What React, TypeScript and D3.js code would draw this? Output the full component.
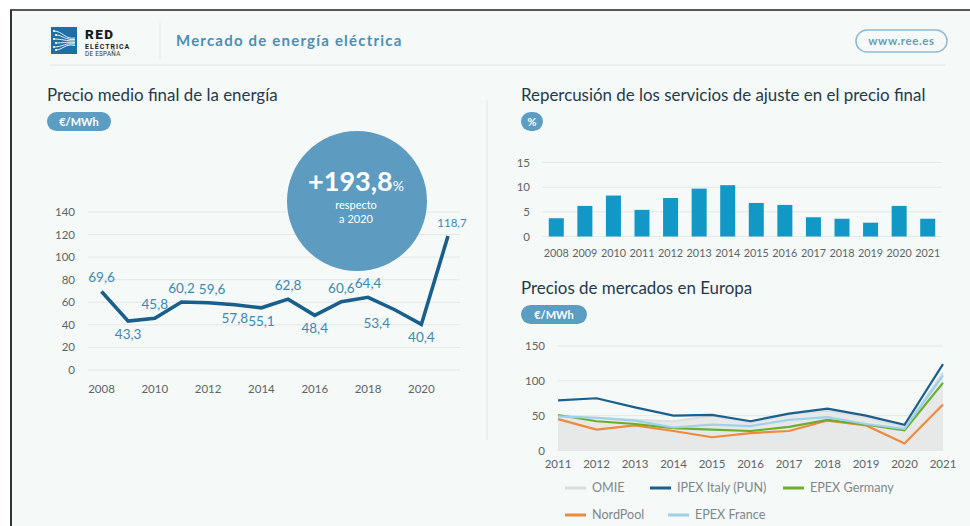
import * as d3 from 'd3'
import React, { useEffect, useRef } from 'react'

// Precio medio final de la energía (€/MWh)
const priceYears = [2008, 2009, 2010, 2011, 2012, 2013, 2014, 2015, 2016, 2017, 2018, 2019, 2020, 2021]
const finalPrice = [69.6, 43.3, 45.8, 60.2, 59.6, 57.8, 55.1, 62.8, 48.4, 60.6, 64.4, 53.4, 40.4, 118.7]
const labelsBelow = [2009, 2013, 2014, 2016, 2019, 2020]
const priceTicks = [0, 20, 40, 60, 80, 100, 120, 140]
const priceYearTicks = [2008, 2010, 2012, 2014, 2016, 2018, 2020]

// Repercusión de los servicios de ajuste (%)
const adjustYears = ['2008', '2009', '2010', '2011', '2012', '2013', '2014', '2015', '2016', '2017', '2018', '2019', '2020', '2021']
const adjustShare = [3.7, 6.2, 8.3, 5.4, 7.8, 9.7, 10.4, 6.8, 6.4, 3.9, 3.6, 2.8, 6.2, 3.6]
const adjustTicks = [0, 5, 10, 15]

// Precios de mercados en Europa (€/MWh)
const marketYears = [2011, 2012, 2013, 2014, 2015, 2016, 2017, 2018, 2019, 2020, 2021]
const omie = [50, 47, 44, 42, 50, 40, 52, 57, 48, 34, 112]
const ipexItaly = [72, 75, 62, 50, 51, 42, 53, 60, 50, 37, 124]
const epexGermany = [51, 42, 38, 32, 30, 28, 34, 44, 37, 29, 97]
const nordPool = [45, 30, 36, 28, 19, 25, 28, 43, 36, 10, 66]
const epexFrance = [49, 47, 43, 33, 37, 35, 44, 48, 38, 31, 108]
const marketTicks = [0, 50, 100, 150]

const BG = '#f5f9f7'
const TITLE = '#25394b'
const PILL = '#5c9ec3'
const GRID = '#e3e9e7'
const TICK = '#5d6468'
const FONT = 'Lato, "Open Sans", sans-serif'

export default function App() {
  const sandbox = useRef<SVGSVGElement>(null)

  useEffect(() => {
    const svg = d3.select(sandbox.current)
    svg.selectAll('*').remove()

    // frame
    svg.append('rect').attr('width', 970).attr('height', 526).attr('fill', '#fff')
    svg.append('rect').attr('x', 11).attr('y', 10).attr('width', 959).attr('height', 516).attr('fill', BG)
    svg.append('line').attr('x1', 10).attr('x2', 970).attr('y1', 10).attr('y2', 10).attr('stroke', '#222').attr('stroke-width', 1.6)
    svg.append('line').attr('x1', 11).attr('x2', 11).attr('y1', 10).attr('y2', 526).attr('stroke', '#333').attr('stroke-width', 2)

    //header logo
    const logo = svg.append('g')
    logo.append('rect').attr('x', 51).attr('y', 27).attr('width', 26).attr('height', 27).attr('fill', '#1f6fa6')
    const rays = [31, 35, 39, 43, 47, 50]
    rays.forEach((y, i) => {
      logo
        .append('path')
        .attr('d', `M${54 + (i % 2) * 2},${y} C${62},${y} ${66},${40 + i * 0.6} ${75},${38 + i * 1.5}`)
        .attr('fill', 'none')
        .attr('stroke', '#fff')
        .attr('stroke-width', 0.9)
      logo.append('circle').attr('cx', 54 + (i % 2) * 2).attr('cy', y).attr('r', 1.1).attr('fill', '#fff')
    })
    logo.append('text').attr('x', 85).attr('y', 39).text('RED')
      .attr('font-family', 'Roboto, sans-serif').attr('font-weight', 900).attr('font-size', 13.5).attr('letter-spacing', 1.5).attr('fill', '#1b1b1b')
    logo.append('text').attr('x', 85).attr('y', 48.5).text('ELÉCTRICA')
      .attr('font-family', 'Roboto, sans-serif').attr('font-weight', 700).attr('font-size', 7).attr('letter-spacing', 1).attr('fill', '#1b1b1b')
    logo.append('text').attr('x', 85).attr('y', 56).text('DE ESPAÑA')
      .attr('font-family', 'Roboto, sans-serif').attr('font-size', 6.3).attr('letter-spacing', 0.3).attr('fill', '#333')
    svg.append('line').attr('x1', 160).attr('x2', 160).attr('y1', 23).attr('y2', 58).attr('stroke', '#e1e6e4')
    svg.append('text').attr('x', 176).attr('y', 46).text('Mercado de energía eléctrica')
      .attr('font-family', FONT).attr('font-weight', 700).attr('font-size', 15).attr('letter-spacing', 1.2).attr('fill', '#4b8fb4')

    // www pill
    svg.append('rect').attr('x', 856).attr('y', 30).attr('width', 91).attr('height', 22).attr('rx', 11)
      .attr('fill', 'none').attr('stroke', '#92b9cd').attr('stroke-width', 1.5)
    svg.append('text').attr('x', 901.5).attr('y', 45).attr('text-anchor', 'middle').text('www.ree.es')
      .attr('font-family', FONT).attr('font-weight', 700).attr('font-size', 11.5).attr('letter-spacing', 0.6).attr('fill', '#6c9bb8')
    svg.append('line').attr('x1', 50).attr('x2', 946).attr('y1', 65).attr('y2', 65).attr('stroke', '#e1e7e5')
    svg.append('line').attr('x1', 487).attr('x2', 487).attr('y1', 100).attr('y2', 440).attr('stroke', '#e3e8e6')

    const title = (x: number, y: number, t: string) =>
      svg.append('text').attr('x', x).attr('y', y).text(t)
        .attr('font-family', FONT).attr('font-size', 16.9).attr('fill', TITLE)

    const pill = (x: number, y: number, w: number, t: string) => {
      svg.append('rect').attr('x', x).attr('y', y).attr('width', w).attr('height', 19).attr('rx', 9.5).attr('fill', PILL)
      svg.append('text').attr('x', x + w / 2).attr('y', y + 13.5).attr('text-anchor', 'middle').text(t)
        .attr('font-family', FONT).attr('font-weight', 700).attr('font-size', 11).attr('fill', '#fff')
    }

    //left chart: precio medio
    title(47, 101, 'Precio medio final de la energía')
    pill(47, 112, 64, '€/MWh')

    const x1 = d3.scaleLinear().domain([2008, 2021]).range([101.5, 448])
    const y1 = d3.scaleLinear().domain([0, 140]).range([370, 212])

    const g1 = svg.append('g')
    g1.selectAll('line.grid').data(priceTicks).join('line')
      .attr('x1', 88).attr('x2', 460).attr('y1', d => y1(d)).attr('y2', d => y1(d))
      .attr('stroke', GRID)
    g1.selectAll('text.ytick').data(priceTicks).join('text')
      .attr('x', 75).attr('y', d => y1(d) + 4).attr('text-anchor', 'end').text(d => d)
      .attr('font-family', FONT).attr('font-size', 11.5).attr('fill', TICK)
    g1.selectAll('text.xtick').data(priceYearTicks).join('text')
      .attr('x', d => x1(d)).attr('y', 393).attr('text-anchor', 'middle').text(d => d)
      .attr('font-family', FONT).attr('font-size', 11.5).attr('fill', TICK)

    // bubble
    svg.append('circle').attr('cx', 357).attr('cy', 201).attr('r', 70).attr('fill', '#5d9cc0')
    const big = svg.append('text').attr('x', 356).attr('y', 191).attr('text-anchor', 'middle')
      .attr('font-family', FONT).attr('font-weight', 700).attr('fill', '#fff')
    big.append('tspan').attr('font-size', 27).text('+193,8')
    big.append('tspan').attr('font-size', 14).attr('font-weight', 400).text('%')
    svg.append('text').attr('x', 356).attr('y', 209).attr('text-anchor', 'middle').text('respecto')
      .attr('font-family', FONT).attr('font-size', 11).attr('fill', '#fff')
    svg.append('text').attr('x', 356).attr('y', 222.5).attr('text-anchor', 'middle').text('a 2020')
      .attr('font-family', FONT).attr('font-size', 11).attr('fill', '#fff')

    const pricePts = priceYears.map((yr, i) => ({ yr, v: finalPrice[i] }))
    const line1 = d3.line<{ yr: number; v: number }>().x(d => x1(d.yr)).y(d => y1(d.v))
    g1.append('path').attr('d', line1(pricePts))
      .attr('fill', 'none').attr('stroke', '#1a5e8b').attr('stroke-width', 3.6).attr('stroke-linejoin', 'miter')

    g1.selectAll('text.val').data(pricePts).join('text')
      .attr('x', d => x1(d.yr) + (d.yr === 2019 ? -18 : d.yr === 2012 ? 4 : d.yr === 2021 ? 4 : 0))
      .attr('y', d => (labelsBelow.includes(d.yr) ? y1(d.v) + 18 : y1(d.v) - 9))
      .attr('text-anchor', 'middle')
      .text(d => d.v.toFixed(1).replace('.', ','))
      .attr('font-family', FONT).attr('font-size', d => (d.yr === 2021 ? 11.5 : 13.5)).attr('fill', '#3b88b3')

    //right top: bar chart
    title(521, 101, 'Repercusión de los servicios de ajuste en el precio final')
    pill(521, 112, 22, '%')

    const x2 = d3.scalePoint().domain(adjustYears).range([542, 942]).padding(0.5)
    const y2 = d3.scaleLinear().domain([0, 15]).range([236.5, 162.5])
    const g2 = svg.append('g')
    g2.selectAll('line.grid').data(adjustTicks).join('line')
      .attr('x1', 542).attr('x2', 942).attr('y1', d => y2(d)).attr('y2', d => y2(d))
      .attr('stroke', GRID)
    g2.selectAll('text.ytick').data(adjustTicks).join('text')
      .attr('x', 530).attr('y', d => y2(d) + 4).attr('text-anchor', 'end').text(d => d)
      .attr('font-family', FONT).attr('font-size', 11.5).attr('fill', TICK)
    g2.selectAll('rect.bar').data(adjustShare).join('rect')
      .attr('x', (d, i) => (x2(adjustYears[i]) as number) - 7.5)
      .attr('width', 15)
      .attr('y', d => y2(d))
      .attr('height', d => y2(0) - y2(d))
      .attr('fill', '#1298c6')
    g2.selectAll('text.xtick').data(adjustYears).join('text')
      .attr('x', d => x2(d) as number).attr('y', 257).attr('text-anchor', 'middle').text(d => d)
      .attr('font-family', FONT).attr('font-size', 10.8).attr('fill', TICK)

    //right bottom: market prices
    title(521, 294, 'Precios de mercados en Europa')
    pill(521, 305, 66, '€/MWh')

    const x3 = d3.scaleLinear().domain([2011, 2021]).range([558, 943])
    const y3 = d3.scaleLinear().domain([0, 150]).range([450.5, 346])
    const g3 = svg.append('g')
    g3.selectAll('line.grid').data(marketTicks).join('line')
      .attr('x1', 557).attr('x2', 943).attr('y1', d => y3(d)).attr('y2', d => y3(d))
      .attr('stroke', GRID)
    g3.selectAll('text.ytick').data(marketTicks).join('text')
      .attr('x', 545).attr('y', d => y3(d) + 4).attr('text-anchor', 'end').text(d => d)
      .attr('font-family', FONT).attr('font-size', 11.5).attr('fill', TICK)
    g3.selectAll('text.xtick').data(marketYears).join('text')
      .attr('x', d => x3(d)).attr('y', 468).attr('text-anchor', 'middle').text(d => d)
      .attr('font-family', FONT).attr('font-size', 11.5).attr('fill', TICK)

    const area = d3.area<number>().x((d, i) => x3(marketYears[i])).y0(y3(0)).y1(d => y3(d))
    g3.append('path').attr('d', area(omie)).attr('fill', '#e7e9e9')
    const line3 = d3.line<number>().x((d, i) => x3(marketYears[i])).y(d => y3(d))
    g3.append('path').attr('d', line3(omie)).attr('fill', 'none').attr('stroke', '#dcdfdf').attr('stroke-width', 2)

    const series = [
      { name: 'NordPool', values: nordPool, color: '#f0893a' },
      { name: 'EPEX Germany', values: epexGermany, color: '#6aae2c' },
      { name: 'EPEX France', values: epexFrance, color: '#9fd1ea' },
      { name: 'IPEX Italy (PUN)', values: ipexItaly, color: '#1b5f8c' }
    ]
    series.forEach(s => {
      g3.append('path').attr('d', line3(s.values))
        .attr('fill', 'none').attr('stroke', s.color).attr('stroke-width', 2.2)
    })

    // legend
    const legend = [
      { name: 'OMIE', color: '#dadddd', x: 565, y: 488 },
      { name: 'IPEX Italy (PUN)', color: '#1b5f8c', x: 650, y: 488 },
      { name: 'EPEX Germany', color: '#6aae2c', x: 783, y: 488 },
      { name: 'NordPool', color: '#f0893a', x: 565, y: 515 },
      { name: 'EPEX France', color: '#9fd1ea', x: 668, y: 515 }
    ]
    legend.forEach(l => {
      svg.append('line').attr('x1', l.x).attr('x2', l.x + 21).attr('y1', l.y).attr('y2', l.y)
        .attr('stroke', l.color).attr('stroke-width', 3)
      svg.append('text').attr('x', l.x + 27).attr('y', l.y + 4).text(l.name)
        .attr('font-family', FONT).attr('font-size', 12.6).attr('fill', '#80878a')
    })
  }, [sandbox])

  return (
    <svg
      ref={sandbox}
      width="970"
      height="526"
      style={{ position: 'absolute', left: 0, top: 0, display: 'block' }}
    />
  )
}
